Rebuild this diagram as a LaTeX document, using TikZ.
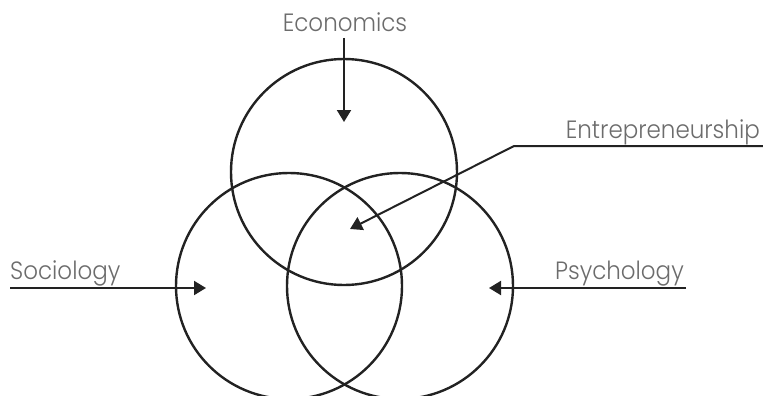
\documentclass[tikz,border=0pt]{standalone}
\usepackage{fontspec}
\setmainfont{Poppins Light}[FakeStretch=0.92]
\usetikzlibrary{arrows.meta}
\definecolor{txtgray}{HTML}{6C6C6C}
\definecolor{inkdark}{HTML}{222222}
\tikzset{
  ring/.style={circle, draw=inkdark, line width=2.4pt, minimum size=226pt, inner sep=0pt},
  label text/.style={text=txtgray, font=\fontsize{25}{30}\selectfont, inner sep=0pt},
  pointer/.style={draw=inkdark, line width=2pt, -{Triangle[width=14pt,length=12pt]}},
}
\begin{document}
\begin{tikzpicture}[x=1pt,y=-1pt]
\useasboundingbox (0,0) rectangle (763,396);
\begin{scope}
\clip (0,0) rectangle (763,396);
\node[ring] (econ) at (344,172) {};
\node[ring] (soc) at (289,286) {};
\node[ring] (psy) at (400,286) {};
\end{scope}
% labels
\node[label text, anchor=base] (econlbl) at (345,32) {Economics};
\node[label text, anchor=base west] (soclbl) at (10,279) {Sociology};
\node[label text, anchor=base east] (psylbl) at (684,279) {Psychology};
\node[label text, anchor=base east] (entlbl) at (760,138) {Entrepreneurship};
% connector points
\coordinate (econstart) at (344,38);
\coordinate (econtip) at (344,122);
\coordinate (socstart) at (10,288);
\coordinate (soctip) at (206,288);
\coordinate (psystart) at (686,288);
\coordinate (psytip) at (489,288);
\coordinate (entend) at (763,146);
\coordinate (entknee) at (514,146);
\coordinate (enttip) at (350,229);
\draw[pointer] (econstart) -- (econtip);
\draw[pointer] (socstart) -- (soctip);
\draw[pointer] (psystart) -- (psytip);
\draw[pointer] (entend) -- (entknee) -- (enttip);
\end{tikzpicture}
\end{document}
